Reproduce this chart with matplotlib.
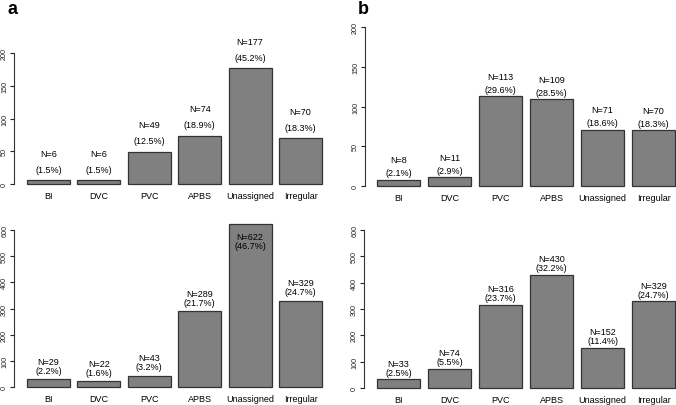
import matplotlib.pyplot as plt

plt.rcParams['font.family'] = ['Liberation Sans', 'DejaVu Sans']

categories = ['BI', 'DVC', 'PVC', 'APBS', 'Unassigned', 'Irregular']

a_top_n = [6, 6, 49, 74, 177, 70]
a_top_pct = ['1.5%', '1.5%', '12.5%', '18.9%', '45.2%', '18.3%']
b_top_n = [8, 11, 113, 109, 71, 70]
b_top_pct = ['2.1%', '2.9%', '29.6%', '28.5%', '18.6%', '18.3%']
a_bot_n = [29, 22, 43, 289, 622, 329]
a_bot_pct = ['2.2%', '1.6%', '3.2%', '21.7%', '46.7%', '24.7%']
b_bot_n = [33, 74, 316, 430, 152, 329]
b_bot_pct = ['2.5%', '5.5%', '23.7%', '32.2%', '11.4%', '24.7%']

W, H = 676, 406
fig = plt.figure(figsize=(W / 100, H / 100), dpi=100)


def panel(px_axis, px_right, px_y0, px_ytop, first_center, step, yticks, n, pct, gap_n, gap_p):
    # axes laid out in pixel coordinates, x data = bar index
    ax = fig.add_axes([px_axis / W, 1 - px_y0 / H, (px_right - px_axis) / W, (px_y0 - px_ytop) / H])
    xs = list(range(len(n)))
    bars = ax.bar(xs, n, width=0.85, color='#808080', edgecolor='#333333', linewidth=0.9)
    for b in bars:
        b.set_clip_on(False)
    ax.set_xlim((px_axis - first_center) / step, (px_right - first_center) / step)
    ax.set_ylim(0, yticks[-1])
    for s in ['top', 'right', 'bottom']:
        ax.spines[s].set_visible(False)
    ax.spines['left'].set_bounds(0, yticks[-1])
    ax.spines['left'].set_linewidth(0.8)
    ax.spines['left'].set_color('#333333')
    ax.set_yticks(yticks)
    ax.set_yticklabels([str(t) for t in yticks], rotation=90, va='center', fontsize=5.2)
    ax.tick_params(axis='y', length=3.2, width=0.8, pad=1, colors='#222222')
    ax.set_xticks(xs)
    ax.set_xticklabels(categories, fontsize=6.5)
    ax.tick_params(axis='x', length=0, pad=5)
    for x, v, p in zip(xs, n, pct):
        if v > yticks[-1]:
            dn, dp = -12, -21
        else:
            dn, dp = gap_n, gap_p
        ax.annotate('N=%d' % v, (x, v), xytext=(0, dn), textcoords='offset pixels',
                    ha='center', va='center', fontsize=6.5, annotation_clip=False)
        ax.annotate('(%s)' % p, (x, v), xytext=(0, dp), textcoords='offset pixels',
                    ha='center', va='center', fontsize=6.5, annotation_clip=False)
    return ax


panel(14, 335, 185, 54, 48.5, 50.4, [0, 50, 100, 150, 200], a_top_n, a_top_pct, 27, 11)
panel(365, 676, 187, 28, 398.5, 51, [0, 50, 100, 150, 200], b_top_n, b_top_pct, 20, 7)
panel(14, 335, 388, 231, 48.5, 50.4, [0, 100, 200, 300, 400, 500, 600], a_bot_n, a_bot_pct, 18, 9)
panel(364, 676, 389, 231, 398.5, 51, [0, 100, 200, 300, 400, 500, 600], b_bot_n, b_bot_pct, 16, 7)

fig.text(12 / W, 1 - 9 / H, 'a', fontsize=13, fontweight='bold', ha='center', va='center')
fig.text(363 / W, 1 - 9 / H, 'b', fontsize=13, fontweight='bold', ha='center', va='center')

fig.savefig('out.png', dpi=100)
